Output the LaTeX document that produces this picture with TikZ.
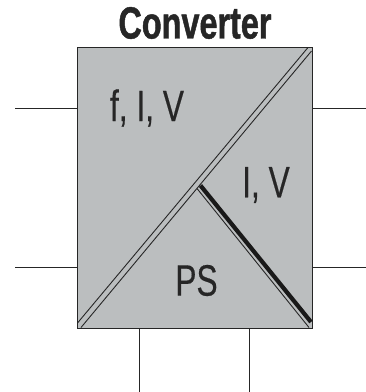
\documentclass[tikz,border=0pt]{standalone}
\usepackage{fontspec}
\setmainfont[FakeStretch=0.72,FakeBold=0.4,BoldFeatures={FakeStretch=0.72,FakeBold=1}]{Liberation Sans}
\begin{document}
\begin{tikzpicture}[x=1pt,y=-1pt,
  stub/.style={draw=black!85,line width=1pt},
  frame/.style={draw=black!85,line width=1.3pt,fill=boxgrey,minimum width=235pt,minimum height=281pt,inner sep=0pt,anchor=north west},
  thinline/.style={draw=black!85,line width=0.9pt},
  thickline/.style={draw=black!90,line width=4.2pt},
  label/.style={inner sep=0pt,text=black!85,font=\fontsize{44}{44}\selectfont},
]
\definecolor{boxgrey}{HTML}{BBBEBF}
\useasboundingbox (0,0) rectangle (366,392);
\node[frame] (box) at (77,47) {};
\coordinate (l1) at (15,108);
\coordinate (l2) at (15,267);
\coordinate (r1) at (366,108);
\coordinate (r2) at (366,267);
\coordinate (b1) at (139,392);
\coordinate (b2) at (249,392);
\draw[stub] (l1) -- (l1 -| box.west);
\draw[stub] (l2) -- (l2 -| box.west);
\draw[stub] (r1) -- (r1 -| box.east);
\draw[stub] (r2) -- (r2 -| box.east);
\draw[stub] (b1) -- (b1 |- box.south);
\draw[stub] (b2) -- (b2 |- box.south);
% long double diagonal
\draw[thinline] (308,47.5) -- (77.5,323);
\draw[thinline] (311.5,51) -- (81,327.5);
% right double diagonal
\draw[thickline] (200.5,185.5) -- (311,322);
\draw[thinline] (197,188.5) -- (309,327.5);
\node[label,font=\fontsize{45}{45}\selectfont\bfseries] (title) at (195,23) {Converter};
\node[label] (t1) at (147,108) {f, I, V};
\node[label] (t2) at (266,185) {I, V};
\node[label] (t3) at (196.5,280.5) {PS};
\end{tikzpicture}
\end{document}
